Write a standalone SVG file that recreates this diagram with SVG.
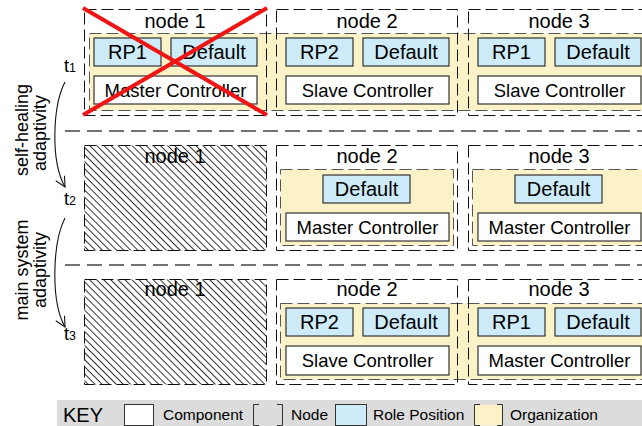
<svg xmlns="http://www.w3.org/2000/svg" width="642" height="426" viewBox="0 0 642 426">
  <defs>
    <pattern id="hatch" width="5" height="5" patternUnits="userSpaceOnUse" patternTransform="rotate(-45)">
      <line x1="0.5" y1="0" x2="0.5" y2="5" stroke="#333" stroke-width="1"/>
    </pattern>
    <marker id="open-arrow" viewBox="0 0 12 12" refX="11" refY="6" markerWidth="12" markerHeight="12" markerUnits="userSpaceOnUse" orient="auto">
      <path d="M1,1 L11,6 L1,11" fill="none" stroke="#111" stroke-width="1.1"/>
    </marker>
    <style>
      text { font-family: "Liberation Sans", Arial, sans-serif; fill: #000; }
      .node { fill: none; stroke: #111; stroke-width: 1; stroke-dasharray: 12 5; }
      .dead { fill: url(#hatch); stroke: #111; stroke-width: 1; stroke-dasharray: 12 5; }
      .org { fill: #fcf2c8; stroke: #555; stroke-width: 1; stroke-dasharray: 12 5; }
      .rp { fill: #cdebf8; stroke: #333; stroke-width: 1.2; }
      .comp { fill: #fff; stroke: #333; stroke-width: 1.2; }
      .sep { fill: none; stroke: #444; stroke-width: 1.5; stroke-dasharray: 15 7; }
      .nlabel { font-size: 20px; text-anchor: middle; }
      .blabel { font-size: 20px; text-anchor: middle; }
      .clabel { font-size: 18.5px; text-anchor: middle; }
      .side { font-size: 18px; text-anchor: middle; }
      .tt { font-size: 18px; }
      .sub { font-size: 12.5px; }
      .key { font-size: 15.5px; }
      .cross { stroke: #f01414; stroke-width: 4; }
    </style>
  </defs>

  <rect width="642" height="426" fill="#fff"/>

  <!-- organizations (drawn beneath the nodes) -->
  <g id="organizations">
    <rect class="org" x="89.5" y="33.5" width="560" height="77"/>
    <rect class="org" x="280.5" y="169.5" width="173" height="76"/>
    <rect class="org" x="472.5" y="169.5" width="177" height="76"/>
    <rect class="org" x="280.5" y="303.5" width="369" height="76"/>
  </g>

  <!-- time step separators -->
  <g id="separators">
    <line class="sep" x1="65" y1="131" x2="642" y2="131"/>
    <line class="sep" x1="65" y1="265" x2="642" y2="265"/>
  </g>

  <!-- t1 -->
  <g id="t1-node1">
    <rect class="node" x="84.5" y="9.5" width="182" height="106"/>
    <text class="nlabel" x="175" y="28">node 1</text>
    <rect class="rp" x="94" y="38" width="67" height="28"/>
    <text class="blabel" x="127.5" y="59">RP1</text>
    <rect class="rp" x="171" y="38" width="86" height="28"/>
    <text class="blabel" x="214" y="59">Default</text>
    <rect class="comp" x="94" y="76" width="163" height="28"/>
    <text class="clabel" x="175.5" y="96.5">Master Controller</text>
  </g>
  <g id="t1-node2">
    <rect class="node" x="276.5" y="9.5" width="181" height="106"/>
    <text class="nlabel" x="367" y="28">node 2</text>
    <rect class="rp" x="286" y="38" width="67" height="28"/>
    <text class="blabel" x="319.5" y="59">RP2</text>
    <rect class="rp" x="363" y="38" width="86" height="28"/>
    <text class="blabel" x="406" y="59">Default</text>
    <rect class="comp" x="286" y="76" width="163" height="28"/>
    <text class="clabel" x="367.5" y="96.5">Slave Controller</text>
  </g>
  <g id="t1-node3">
    <rect class="node" x="468.5" y="9.5" width="190" height="106"/>
    <text class="nlabel" x="559" y="28">node 3</text>
    <rect class="rp" x="478" y="38" width="67" height="28"/>
    <text class="blabel" x="511.5" y="59">RP1</text>
    <rect class="rp" x="555" y="38" width="86" height="28"/>
    <text class="blabel" x="598" y="59">Default</text>
    <rect class="comp" x="478" y="76" width="163" height="28"/>
    <text class="clabel" x="559.5" y="96.5">Slave Controller</text>
  </g>
  <g id="t1-node1-failure">
    <line class="cross" x1="83" y1="8" x2="267" y2="115"/>
    <line class="cross" x1="267" y1="8" x2="83" y2="115"/>
  </g>

  <!-- t2 -->
  <g id="t2-node1">
    <rect class="dead" x="84.5" y="145.5" width="182" height="105"/>
    <text class="nlabel" x="175" y="163">node 1</text>
  </g>
  <g id="t2-node2">
    <rect class="node" x="276.5" y="145.5" width="181" height="105"/>
    <text class="nlabel" x="367" y="163">node 2</text>
    <rect class="rp" x="323" y="175" width="87" height="28"/>
    <text class="blabel" x="366.5" y="196">Default</text>
    <rect class="comp" x="286" y="213" width="163" height="28"/>
    <text class="clabel" x="367.5" y="233.5">Master Controller</text>
  </g>
  <g id="t2-node3">
    <rect class="node" x="468.5" y="145.5" width="190" height="105"/>
    <text class="nlabel" x="559" y="163">node 3</text>
    <rect class="rp" x="515" y="175" width="87" height="28"/>
    <text class="blabel" x="558.5" y="196">Default</text>
    <rect class="comp" x="478" y="213" width="163" height="28"/>
    <text class="clabel" x="559.5" y="233.5">Master Controller</text>
  </g>

  <!-- t3 -->
  <g id="t3-node1">
    <rect class="dead" x="84.5" y="279.5" width="182" height="105"/>
    <text class="nlabel" x="175" y="296">node 1</text>
  </g>
  <g id="t3-node2">
    <rect class="node" x="276.5" y="279.5" width="181" height="105"/>
    <text class="nlabel" x="367" y="296">node 2</text>
    <rect class="rp" x="286" y="308" width="67" height="28"/>
    <text class="blabel" x="319.5" y="329">RP2</text>
    <rect class="rp" x="363" y="308" width="86" height="28"/>
    <text class="blabel" x="406" y="329">Default</text>
    <rect class="comp" x="286" y="346" width="163" height="29"/>
    <text class="clabel" x="367.5" y="367">Slave Controller</text>
  </g>
  <g id="t3-node3">
    <rect class="node" x="468.5" y="279.5" width="190" height="105"/>
    <text class="nlabel" x="559" y="296">node 3</text>
    <rect class="rp" x="478" y="308" width="67" height="28"/>
    <text class="blabel" x="511.5" y="329">RP1</text>
    <rect class="rp" x="555" y="308" width="86" height="28"/>
    <text class="blabel" x="598" y="329">Default</text>
    <rect class="comp" x="478" y="346" width="163" height="29"/>
    <text class="clabel" x="559.5" y="367">Master Controller</text>
  </g>

  <!-- time labels -->
  <g id="time-labels">
    <text class="tt" x="64" y="72">t<tspan class="sub">1</tspan></text>
    <text class="tt" x="64" y="205">t<tspan class="sub">2</tspan></text>
    <text class="tt" x="64" y="340">t<tspan class="sub">3</tspan></text>
  </g>

  <!-- adaptation arrows -->
  <g id="connectors" fill="none" stroke="#111" stroke-width="1.1">
    <path d="M65,82 C53,105 50,160 65,187" marker-end="url(#open-arrow)"/>
    <path d="M65,218 C53,241 50,300 65,327" marker-end="url(#open-arrow)"/>
  </g>

  <g id="arrow-labels">
    <text class="side" transform="translate(28,130) rotate(-90)">self-healing</text>
    <text class="side" transform="translate(46,133) rotate(-90)">adaptivity</text>
    <text class="side" transform="translate(28,270) rotate(-90)">main system</text>
    <text class="side" transform="translate(46,270) rotate(-90)">adaptivity</text>
  </g>

  <!-- legend -->
  <g id="key">
    <rect x="57" y="400" width="585" height="26" fill="#dcdcdc"/>
    <text x="63" y="422" font-size="20">KEY</text>
    <rect x="124.5" y="404.5" width="29" height="21" fill="#fff" stroke="#333" stroke-width="1"/>
    <text class="key" x="163" y="420">Component</text>
    <path d="M259,404.5 H253.5 V425.5 H259 M277,404.5 H282.5 V425.5 H277" fill="none" stroke="#333" stroke-width="1"/>
    <text class="key" x="291" y="420">Node</text>
    <rect x="335.5" y="404.5" width="31" height="21" fill="#cdebf8" stroke="#333" stroke-width="1"/>
    <text class="key" x="373" y="420">Role Position</text>
    <rect x="474" y="404.5" width="29" height="21" fill="#fcf2c8"/>
    <path d="M480,404.5 H474.5 V425.5 H480 M497,404.5 H502.5 V425.5 H497" fill="none" stroke="#333" stroke-width="1"/>
    <text class="key" x="510" y="420">Organization</text>
  </g>
</svg>
